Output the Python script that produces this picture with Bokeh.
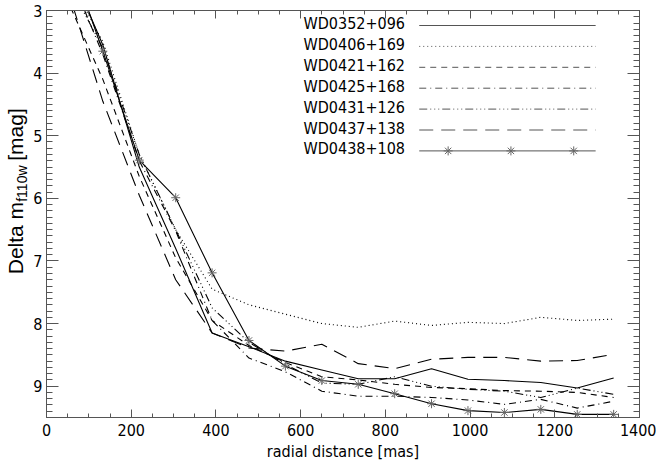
import numpy as np
from bokeh.plotting import figure
from bokeh.layouts import row
from bokeh.models import Range1d, LinearAxis, Label, SingleIntervalTicker, CustomJSTickFormatter
from bokeh.core.properties import value
from bokeh.embed import file_html
from bokeh.resources import INLINE

# ---------------- data ----------------
radius = [47, 133, 219, 305, 391, 478, 564, 650, 736, 822, 909, 995, 1081, 1167, 1253, 1339]

wd0352_096 = [2.2, 3.55, 5.50, 6.80, 8.15, 8.37, 8.60, 8.74, 8.88, 8.88, 8.72, 8.89, 8.91, 8.94, 9.03, 8.87]
wd0406_169 = [2.4, 3.50, 5.30, 6.50, 7.45, 7.70, 7.85, 8.00, 8.06, 7.96, 8.03, 7.98, 8.00, 7.90, 7.95, 7.93]
wd0421_162 = [2.8, 4.10, 5.65, 6.95, 7.95, 8.35, 8.62, 8.85, 8.90, 8.97, 9.02, 9.04, 9.07, 9.08, 9.10, 9.18]
wd0425_168 = [2.3, 3.70, 5.40, 6.52, 7.95, 8.55, 8.77, 9.08, 9.16, 9.16, 9.18, 9.22, 9.29, 9.21, 9.35, 9.24]
wd0431_126 = [2.5, 3.60, 5.30, 6.50, 7.75, 8.30, 8.65, 8.95, 8.97, 8.85, 9.00, 9.05, 9.08, 9.18, 9.03, 9.13]
wd0437_138 = [2.6, 4.45, 5.95, 7.30, 8.15, 8.39, 8.44, 8.33, 8.64, 8.72, 8.57, 8.54, 8.54, 8.60, 8.59, 8.49]
wd0438_108 = [2.0, 3.65, 5.39, 5.99, 7.19, 8.27, 8.68, 8.91, 8.97, 9.12, 9.28, 9.39, 9.42, 9.37, 9.45, 9.45]

names = ["WD0352+096", "WD0406+169", "WD0421+162", "WD0425+168",
         "WD0431+126", "WD0437+138", "WD0438+108"]
series = [wd0352_096, wd0406_169, wd0421_162, wd0425_168,
          wd0431_126, wd0437_138, wd0438_108]
dashes = ["solid", "1 3", "6 5", "7 4 1 4", "8 3 1 3 1 3 1 3", "14 8", "solid"]

x_ticks_interval = 200
y_ticks_interval = 1
ylabel_parts = ["Delta m", "f110w", "[mag]"]

# ---------------- figure ----------------
FONT = "DejaVu Sans Condensed, Liberation Sans, sans-serif"
YFONT = "Liberation Sans, Arial, sans-serif"
AX = "#555555"

X0, X1 = 0, 1400
Y0, Y1 = 9.5, 3.0
H = 466
QW = 30
FRAME_W, FRAME_H = 595.0, 407.0

p = figure(width=656 - QW, height=H, output_backend="svg", toolbar_location=None,
           x_range=Range1d(X0, X1), y_range=Range1d(Y0, Y1),
           min_border_left=44 - QW, min_border_right=17, min_border_top=10,
           min_border_bottom=49, background_fill_color="white",
           border_fill_color="white")
p.grid.visible = False
p.outline_line_color = AX
p.outline_line_width = 1

def style_axis(ax, major_len, minor_len, labels=True):
    ax.axis_line_color = AX
    ax.major_tick_line_color = AX
    ax.minor_tick_line_color = AX
    ax.major_tick_in = major_len
    ax.major_tick_out = 0
    ax.minor_tick_in = minor_len
    ax.minor_tick_out = 0
    ax.major_label_text_font = FONT
    ax.major_label_text_color = "black"
    ax.axis_label_text_font = FONT
    ax.axis_label_text_font_style = "normal"
    ax.axis_label_text_color = "black"
    ax.major_label_text_font_size = "16px"
    ax.axis_label_text_font_size = "16px"
    if not labels:
        ax.formatter = CustomJSTickFormatter(code="return ''")
        ax.major_label_standoff = 0

p.xaxis.ticker = SingleIntervalTicker(interval=x_ticks_interval, num_minor_ticks=4)
p.yaxis.ticker = SingleIntervalTicker(interval=y_ticks_interval, num_minor_ticks=10)
style_axis(p.xaxis[0], 8, 4)
style_axis(p.yaxis[0], 12, 6)
p.xaxis.axis_label = "radial distance [mas]"
p.xaxis.axis_label_standoff = 3
p.xaxis.major_label_standoff = 6
p.yaxis.major_label_standoff = 4

top = LinearAxis(ticker=SingleIntervalTicker(interval=x_ticks_interval, num_minor_ticks=4))
right = LinearAxis(ticker=SingleIntervalTicker(interval=y_ticks_interval, num_minor_ticks=10))
style_axis(top, 8, 4, labels=False)
style_axis(right, 12, 6, labels=False)
p.add_layout(top, "above")
p.add_layout(right, "right")

# ---------------- curves ----------------
for nm, ys, dash in zip(names, series, dashes):
    p.line(radius, ys, line_color="black", line_width=1.1, line_dash=dash)
p.scatter(radius, wd0438_108, marker="asterisk", size=9,
          line_color="#666666", line_width=1)

# ---------------- legend (manual: label left, line right) ----------------
def xdata(px):  # frame-relative px from left -> data x
    return X0 + (X1 - X0) * px / FRAME_W

def ydata(py):  # frame-relative px from top -> data y
    return Y1 + (Y0 - Y1) * py / FRAME_H

row_top = 13.0
row_step = 20.9
for i, (nm, dash) in enumerate(zip(names, dashes)):
    ry = row_top + i * row_step
    p.add_layout(Label(x=257, y=FRAME_H - ry, x_units="screen", y_units="screen",
                       text=nm, text_font=FONT, text_font_size="16px",
                       text_color="black", text_baseline="middle"))
    p.segment(x0=[xdata(374)], y0=[ydata(ry + 2)], x1=[xdata(551)], y1=[ydata(ry + 2)],
              line_color="#555555", line_width=1, line_dash=dash)
ry = row_top + 6 * row_step
p.scatter([xdata(403), xdata(466), xdata(529)], [ydata(ry + 2)] * 3,
          marker="asterisk", size=9, line_color="#666666", line_width=1)

# ---------------- y-axis title panel (with subscript) ----------------
q = figure(width=QW, height=H, output_backend="svg", toolbar_location=None,
           x_range=Range1d(0, QW), y_range=Range1d(H, 0),
           min_border_left=0, min_border_right=0, min_border_top=0,
           min_border_bottom=0, background_fill_color="white",
           border_fill_color="white")
q.axis.visible = False
q.grid.visible = False
q.outline_line_color = None
tk = dict(angle=np.pi / 2, text_align="left", text_baseline="middle",
          text_color="black", text_font=value(YFONT))
q.text(x=[15], y=[302], text=[ylabel_parts[0]], text_font_size="21px", **tk)
q.text(x=[21], y=[219], text=[ylabel_parts[1]], text_font_size="14px", **tk)
q.text(x=[15], y=[172], text=[ylabel_parts[2]], text_font_size="21px", **tk)

layout = row(q, p, spacing=0)
open("out.html", "w").write(file_html(layout, INLINE))
